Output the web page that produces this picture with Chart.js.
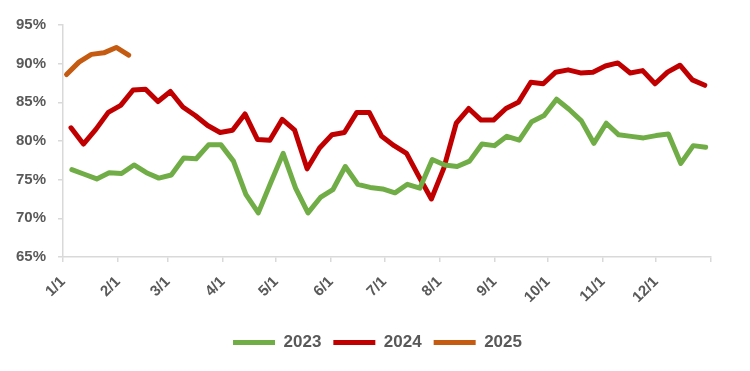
<!DOCTYPE html>
<html>
<head>
<meta charset="utf-8">
<script src="https://cdn.jsdelivr.net/npm/chart.js@4"></script>
<style>
  html, body { margin: 0; padding: 0; background: #fff; }
  #wrap { width: 750px; height: 371px; }
</style>
</head>
<body>
<div id="wrap"><canvas id="myChart" width="750" height="371"></canvas></div>
<script>
// month ticks (day of year) and their labels
const monthDays = [0, 31, 59, 90, 120, 151, 181, 212, 243, 273, 304, 334, 365];
const monthLabels = ["1/1", "2/1", "3/1", "4/1", "5/1", "6/1", "7/1", "8/1", "9/1", "10/1", "11/1", "12/1", ""];

// weekly readings, first reading day of each year
const start2023 = 5;
const start2024 = 4.5;
const start2025 = 2;

const rate2023 = [
  76.3, 75.7, 75.1, 75.9, 75.8, 76.9, 75.9, 75.2, 75.6, 77.8,
  77.7, 79.5, 79.5, 77.4, 73.1, 70.7, 74.6, 78.4, 73.9, 70.7,
  72.7, 73.7, 76.7, 74.4, 74.0, 73.8, 73.3, 74.4, 73.9, 77.6,
  76.9, 76.7, 77.4, 79.6, 79.4, 80.6, 80.1, 82.5, 83.3, 85.4,
  84.1, 82.6, 79.7, 82.3, 80.8, 80.6, 80.4, 80.7, 80.9, 77.1,
  79.4, 79.2
];
const rate2024 = [
  81.7, 79.6, 81.5, 83.7, 84.6, 86.6, 86.7, 85.1, 86.4, 84.4,
  83.3, 82.0, 81.1, 81.4, 83.5, 80.2, 80.1, 82.8, 81.4, 76.4,
  79.1, 80.8, 81.1, 83.7, 83.7, 80.6, 79.4, 78.4, 75.4, 72.5,
  76.5, 82.3, 84.2, 82.7, 82.7, 84.2, 85.0, 87.6, 87.4, 88.9,
  89.2, 88.8, 88.9, 89.7, 90.1, 88.8, 89.1, 87.4, 88.9, 89.8,
  87.9, 87.2
];
const rate2025 = [88.6, 90.2, 91.2, 91.4, 92.1, 91.1];

const toPoints = (vals, start) => vals.map((v, i) => ({ x: start + 7 * i, y: v }));

const grey = "#595959";
const axisGrey = "#d9d9d9";
const fontFamily = "'Liberation Sans', Arial, sans-serif";

function lineSet(label, vals, start, color) {
  return {
    label: label,
    data: toPoints(vals, start),
    borderColor: color,
    backgroundColor: color,
    borderWidth: 5,
    borderJoinStyle: "round",
    borderCapStyle: "round",
    pointRadius: 0,
    pointHoverRadius: 0,
    tension: 0,
    pointStyle: "line"
  };
}

// legend sits centred under the whole picture, not just under the plot
const legendShift = {
  id: "legendShift",
  afterLayout(chart) {
    chart.legend.left += 22;
    chart.legend.right += 22;
  }
};

new Chart(document.getElementById("myChart").getContext("2d"), {
  type: "line",
  data: {
    datasets: [
      lineSet("2023", rate2023, start2023, "#70AD47"),
      lineSet("2024", rate2024, start2024, "#C00000"),
      lineSet("2025", rate2025, start2025, "#C55A11")
    ]
  },
  plugins: [legendShift],
  options: {
    responsive: false,
    animation: false,
    layout: { padding: { top: 25, right: 39, bottom: 10, left: 0 } },
    plugins: {
      tooltip: { enabled: false },
      legend: {
        position: "bottom",
        labels: {
          usePointStyle: true,
          pointStyleWidth: 42,
          boxHeight: 4,
          padding: 12,
          color: grey,
          font: { family: fontFamily, size: 17, weight: "bold" }
        }
      }
    },
    scales: {
      x: {
        type: "linear",
        min: 0,
        max: 365,
        afterBuildTicks: (scale) => { scale.ticks = monthDays.map(d => ({ value: d })); },
        afterFit: (scale) => { scale.height = 65; },
        ticks: {
          autoSkip: false,
          minRotation: 45,
          maxRotation: 45,
          padding: 11,
          color: grey,
          font: { family: fontFamily, size: 15, weight: "bold" },
          callback: (v) => monthLabels[monthDays.indexOf(v)]
        },
        grid: { drawOnChartArea: false, drawTicks: true, tickLength: 5, color: axisGrey, lineWidth: 1.5 },
        border: { color: axisGrey, width: 1.5 }
      },
      y: {
        min: 65,
        max: 95,
        afterFit: (scale) => { scale.width = 63; },
        ticks: {
          stepSize: 5,
          padding: 12,
          color: grey,
          font: { family: fontFamily, size: 15, weight: "bold" },
          callback: (v) => v + "%"
        },
        grid: { drawOnChartArea: false, drawTicks: true, tickLength: 5, color: axisGrey, lineWidth: 1.5 },
        border: { color: axisGrey, width: 1.5 }
      }
    }
  }
});
</script>
</body>
</html>
